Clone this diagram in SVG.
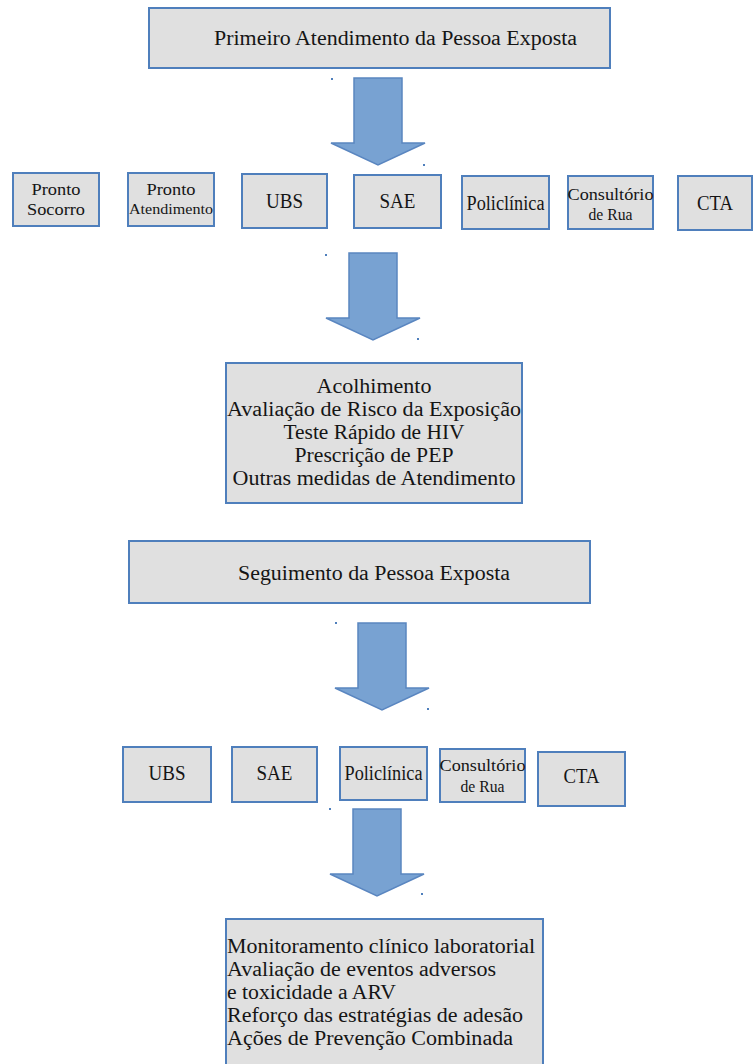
<svg xmlns="http://www.w3.org/2000/svg" width="756" height="1064" viewBox="0 0 756 1064">
<style>
.box{fill:#e0e0e0;stroke:#4f7fbc;stroke-width:2}
.arrow{fill:#78a2d2;stroke:#5a86c0;stroke-width:1.5;stroke-linejoin:miter}
.dot{fill:#4f7fbc}
.t{font-family:"Liberation Serif","Tinos","Noto Serif","DejaVu Serif","FreeSerif","Times New Roman",Times,serif;fill:#151515}
.big{font-size:20px}
.mid{font-size:20px;text-anchor:middle}
.sm{font-size:17px;text-anchor:middle}
.c{text-anchor:middle}
</style>
<rect width="756" height="1064" fill="#ffffff"/>
<defs>
<path id="arr" d="M0,0 H48 V65 H71 L24,87 L-23,65 H0 Z"/>
</defs>
<g id="connectors">
<use href="#arr" class="arrow" x="354" y="78"/>
<use href="#arr" class="arrow" x="349" y="253"/>
<use href="#arr" class="arrow" x="358" y="623"/>
<use href="#arr" class="arrow" x="353" y="809"/>
<rect class="dot" x="331" y="78" width="2" height="2"/>
<rect class="dot" x="423" y="164" width="2" height="2"/>
<rect class="dot" x="325" y="254" width="2" height="2"/>
<rect class="dot" x="417" y="338" width="2" height="2"/>
<rect class="dot" x="335" y="622" width="2" height="2"/>
<rect class="dot" x="427" y="708" width="2" height="2"/>
<rect class="dot" x="329" y="808" width="2" height="2"/>
<rect class="dot" x="421" y="893" width="2" height="2"/>
</g>
<g id="n-primeiro">
<rect class="box" x="149" y="8" width="461" height="60"/>
<text class="t big" x="214" y="45" textLength="363" lengthAdjust="spacingAndGlyphs">Primeiro Atendimento da Pessoa Exposta</text>
</g>
<g id="n-pronto-socorro">
<rect class="box" x="13" y="173" width="86" height="53"/>
<text class="t sm" x="56" y="195" textLength="49" lengthAdjust="spacingAndGlyphs">Pronto</text>
<text class="t sm" x="56" y="215" textLength="58" lengthAdjust="spacingAndGlyphs">Socorro</text>
</g>
<g id="n-pronto-atendimento">
<rect class="box" x="128" y="173" width="86" height="53"/>
<text class="t sm" x="171" y="195" textLength="49" lengthAdjust="spacingAndGlyphs">Pronto</text>
<text class="t sm" x="171" y="214" style="font-size:14px" textLength="84" lengthAdjust="spacingAndGlyphs">Atendimento</text>
</g>
<g id="n-ubs1">
<rect class="box" x="242" y="174" width="85" height="54"/>
<text class="t mid" x="284.5" y="208" textLength="37" lengthAdjust="spacingAndGlyphs">UBS</text>
</g>
<g id="n-sae1">
<rect class="box" x="354" y="175" width="87" height="53"/>
<text class="t mid" x="397.5" y="208" textLength="36" lengthAdjust="spacingAndGlyphs">SAE</text>
</g>
<g id="n-policlinica1">
<rect class="box" x="462" y="176" width="87" height="53"/>
<text class="t mid" x="505.5" y="210" textLength="78" lengthAdjust="spacingAndGlyphs">Policlínica</text>
</g>
<g id="n-consultorio1">
<rect class="box" x="568" y="176" width="85" height="53"/>
<text class="t sm" x="610.5" y="200" textLength="86" lengthAdjust="spacingAndGlyphs">Consultório</text>
<text class="t sm" x="610.5" y="220" textLength="44" lengthAdjust="spacingAndGlyphs">de Rua</text>
</g>
<g id="n-cta1">
<rect class="box" x="678" y="176" width="74" height="54"/>
<text class="t mid" x="715" y="210" textLength="36" lengthAdjust="spacingAndGlyphs">CTA</text>
</g>
<g id="n-acolhimento">
<rect class="box" x="226" y="363" width="296" height="140"/>
<text class="t big c" x="374" y="393" textLength="115" lengthAdjust="spacingAndGlyphs">Acolhimento</text>
<text class="t big c" x="374" y="416" textLength="294" lengthAdjust="spacingAndGlyphs">Avaliação de Risco da Exposição</text>
<text class="t big c" x="374" y="439" textLength="181" lengthAdjust="spacingAndGlyphs">Teste Rápido de HIV</text>
<text class="t big c" x="374" y="462" textLength="159" lengthAdjust="spacingAndGlyphs">Prescrição de PEP</text>
<text class="t big c" x="374" y="485" textLength="283" lengthAdjust="spacingAndGlyphs">Outras medidas de Atendimento</text>
</g>
<g id="n-seguimento">
<rect class="box" x="129" y="541" width="461" height="62"/>
<text class="t big" x="238" y="580" textLength="272" lengthAdjust="spacingAndGlyphs">Seguimento da Pessoa Exposta</text>
</g>
<g id="n-ubs2">
<rect class="box" x="123" y="747" width="88" height="55"/>
<text class="t mid" x="167" y="780" textLength="37" lengthAdjust="spacingAndGlyphs">UBS</text>
</g>
<g id="n-sae2">
<rect class="box" x="232" y="747" width="85" height="55"/>
<text class="t mid" x="274.5" y="780" textLength="36" lengthAdjust="spacingAndGlyphs">SAE</text>
</g>
<g id="n-policlinica2">
<rect class="box" x="340" y="747" width="87" height="53"/>
<text class="t mid" x="383.5" y="780" textLength="78" lengthAdjust="spacingAndGlyphs">Policlínica</text>
</g>
<g id="n-consultorio2">
<rect class="box" x="440" y="749" width="85" height="53"/>
<text class="t sm" x="482.5" y="771" textLength="86" lengthAdjust="spacingAndGlyphs">Consultório</text>
<text class="t sm" x="482.5" y="792" textLength="44" lengthAdjust="spacingAndGlyphs">de Rua</text>
</g>
<g id="n-cta2">
<rect class="box" x="538" y="752" width="87" height="54"/>
<text class="t mid" x="581.5" y="783" textLength="36" lengthAdjust="spacingAndGlyphs">CTA</text>
</g>
<g id="n-monitoramento">
<rect class="box" x="226" y="919" width="317" height="160"/>
<text class="t big" x="227" y="953" textLength="308" lengthAdjust="spacingAndGlyphs">Monitoramento clínico laboratorial</text>
<text class="t big" x="227" y="976" textLength="269" lengthAdjust="spacingAndGlyphs">Avaliação de eventos adversos</text>
<text class="t big" x="227" y="999" textLength="169" lengthAdjust="spacingAndGlyphs">e toxicidade a ARV</text>
<text class="t big" x="227" y="1022" textLength="296" lengthAdjust="spacingAndGlyphs">Reforço das estratégias de adesão</text>
<text class="t big" x="227" y="1045" textLength="286" lengthAdjust="spacingAndGlyphs">Ações de Prevenção Combinada</text>
</g>
</svg>
